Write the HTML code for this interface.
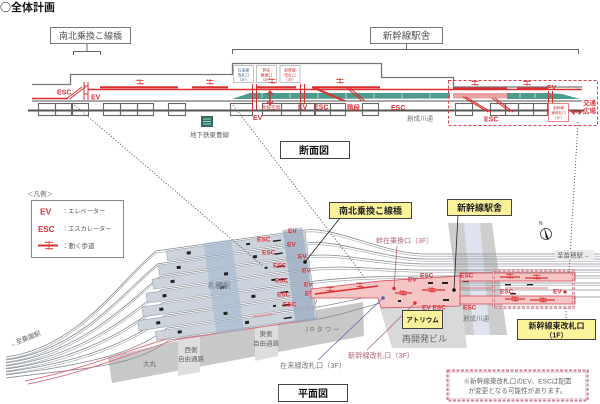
<!DOCTYPE html>
<html><head><meta charset="utf-8">
<style>
html,body{margin:0;padding:0;background:#fff;width:600px;height:404px;overflow:hidden}
svg{display:block}
text{font-family:"Liberation Sans","Noto Sans CJK JP",sans-serif}
.r{fill:#dc2f3a;font-weight:bold}
.g{fill:#666}
</style></head><body>
<svg width="600" height="404" viewBox="0 0 600 404" xmlns="http://www.w3.org/2000/svg">
<defs>
<g id="wk" stroke="#d9302f" stroke-width=".7" fill="none"><path d="M-3.5,-1.5h7M-3.5,-1.5l1.5,-1M3.5,1.5h-7M3.5,1.5l-1.5,1M0,-3v6"/></g>
</defs>

<!-- ===== TITLE ===== -->
<text x="0" y="11" font-size="11" font-weight="bold" fill="#111" style="font-family:'Noto Sans CJK JP','Liberation Sans',sans-serif">○全体計画</text>

<!-- ===== SECTION VIEW ===== -->
<rect x="50.5" y="27.5" width="80" height="16" fill="#fff" stroke="#777"/>
<text x="90.5" y="39" font-size="9" fill="#555" text-anchor="middle">南北乗換こ線橋</text>
<path d="M73.5,55V51.5H100.5V55M87,51.5V43.5" fill="none" stroke="#666"/>
<rect x="370.5" y="27.5" width="72" height="16" fill="#fff" stroke="#777"/>
<text x="406.5" y="39" font-size="9.5" fill="#555" text-anchor="middle">新幹線駅舎</text>
<path d="M232.5,54V49.5H578.5V54M406.5,49.5V43.5" fill="none" stroke="#666"/>

<polyline points="32,84.5 70.5,84.5 70.5,74.5 232.5,74.5 232.5,63.5 381.5,63.5 381.5,77.5 453.5,77.5 453.5,87 582,87" fill="none" stroke="#777" stroke-width="1.3"/>

<!-- small gate boxes -->
<g font-size="3.8" text-anchor="middle">
<rect x="233.5" y="65.5" width="20" height="17" fill="#fff" stroke="#999" stroke-width=".6"/>
<text x="243.5" y="71.5" fill="#4a6a8a">在来線</text><text x="243.5" y="76.5" fill="#4a6a8a">改札口</text><text x="243.5" y="81" fill="#4a6a8a">（3F）</text>
<rect x="256.5" y="65.5" width="20" height="17" fill="#fff" stroke="#999" stroke-width=".6"/>
<text x="266.5" y="71.5" fill="#d9302f">幹在</text><text x="266.5" y="76.5" fill="#d9302f">乗換口</text><text x="266.5" y="81" fill="#d9302f">（3F）</text>
<rect x="280" y="65.5" width="20" height="17" fill="#fff" stroke="#999" stroke-width=".6"/>
<text x="290" y="71.5" fill="#d9302f">新幹線</text><text x="290" y="76.5" fill="#d9302f">改札口</text><text x="290" y="81" fill="#d9302f">（3F）</text>
</g>

<!-- trains band -->
<polygon points="232,99 250,93 450,93 450,98.5" fill="#4e9a8c"/>
<rect x="453" y="93" width="54" height="5.5" fill="#e9a3a3"/>
<polygon points="507,93 547,93 562,94 580,99 507,99" fill="#4e9a8c"/>
<g stroke="#fff" stroke-width=".6">
<path d="M262,93v5M290,93v5M318,93v5M346,93v5M374,93v5M402,93v5M430,93v5M520,93v5M535,93v5"/>
</g>

<!-- floors -->
<line x1="32" y1="101" x2="582" y2="101" stroke="#777" stroke-width="1.2"/>
<line x1="28" y1="110.5" x2="584" y2="110.5" stroke="#555" stroke-width="2"/>
<g fill="none" stroke="#666" stroke-width="1.1">
<rect x="38.5" y="103.5" width="17" height="12"/><rect x="55.5" y="103.5" width="16" height="12"/><rect x="72.5" y="103.5" width="16" height="12"/>
<rect x="103.5" y="103.5" width="17" height="12"/><rect x="120.5" y="103.5" width="17" height="12"/><rect x="137.5" y="103.5" width="16" height="12"/>
<rect x="168.5" y="103.5" width="17" height="12"/>
<rect x="230.5" y="103.5" width="22" height="12"/>
<rect x="262.5" y="103.5" width="19" height="12"/><rect x="281.5" y="103.5" width="19" height="12"/>
<rect x="300.5" y="103.5" width="14" height="12"/><rect x="315.5" y="103.5" width="15" height="12"/><rect x="330.5" y="103.5" width="15" height="12"/>
<rect x="362.5" y="103.5" width="16" height="12"/>
<rect x="455.5" y="103.5" width="17" height="12"/>
<rect x="490.5" y="103.5" width="15" height="12"/><rect x="505.5" y="103.5" width="13" height="12"/><rect x="518.5" y="103.5" width="15" height="12"/><rect x="533.5" y="103.5" width="14" height="12"/>
</g>

<!-- red elements in section -->
<g stroke="#d9302f" fill="none">
<line x1="32" y1="98.5" x2="68" y2="98.5" stroke-width="1.6"/>
<line x1="88" y1="89.5" x2="582" y2="89.5" stroke-width="1.4"/>
<path d="M100,87.3H178M192,87.3H228M257,87.3H296M312,87.3H380M453,88.5H507M517,88.5H548" stroke-width="2.2"/>
<path d="M66,99L82,87M69.5,99L85.5,87" stroke-width="1"/>
<path d="M84,82V100M88,82V100M84,86H88M84,94H88" stroke-width="1"/>
<path d="M252.5,84V110M256.5,84V110" stroke-width="1"/>
<path d="M300.5,84V103M304.5,84V103" stroke-width="1"/>
<path d="M313,88L343,101M316,88L346,101" stroke-width="1.1"/>
<path d="M347,88L362,101M350,88L365,101" stroke-width="1.1"/>
<path d="M463,97L488,112M466,97L491,112" stroke-width="1.1"/>
<path d="M492,98L510,112M495,98L513,112" stroke-width="1.1"/>
<path d="M548.5,91V103M552.5,91V103" stroke-width="1"/>
<path d="M270,92V104" stroke-width="1.6"/>
<path d="M267,94.5L270,91L273,94.5M267,101.5L270,105L273,101.5" stroke-width="1.2"/>
<path d="M572,112H581M574.5,109.5L572,112L574.5,114.5M578.5,109.5L581,112L578.5,114.5" stroke-width="1.3"/>
</g>
<use href="#wk" x="140" y="82"/><use href="#wk" x="210" y="82"/><use href="#wk" x="272" y="81"/><use href="#wk" x="340" y="81"/><use href="#wk" x="475" y="83"/><use href="#wk" x="527" y="83"/>

<rect x="548.5" y="103.5" width="20" height="18" fill="#fff" stroke="#d9302f" stroke-width=".6"/>
<g font-size="3.6" fill="#d9302f" text-anchor="middle">
<text x="558.5" y="109">新幹線</text><text x="558.5" y="114">東改札口</text><text x="558.5" y="119">（1F）</text>
</g>

<g font-size="7">
<text x="57" y="94.5" class="r">ESC</text>
<text x="91" y="99.5" class="r">EV</text>
<text x="253" y="120" class="r">EV</text>
<text x="298" y="109.5" class="r">EV</text>
<text x="314" y="109.5" class="r">ESC</text>
<text x="347" y="109.5" class="r" font-size="6.5">階段</text>
<text x="391" y="110" class="r">ESC</text>
<text x="484" y="121.5" class="r">ESC</text>
<text x="547" y="90" class="r">EV</text>
</g>
<text x="262" y="109" font-size="4.5" fill="#d9302f">吹抜空間</text>
<text x="583" y="105" font-size="6.5" class="r">交通</text>
<text x="583" y="113" font-size="6.5" class="r">広場</text>

<!-- subway icon -->
<rect x="201" y="116" width="12" height="11" fill="#2e6c64"/>
<path d="M203,119h8M203,121.5h8M203,124h8" stroke="#cfe" stroke-width=".8"/>
<text x="190" y="137" font-size="6.5" class="g">地下鉄東豊線</text>
<text x="407" y="120.5" font-size="6.5" fill="#777">創成川通</text>

<!-- red dashed box -->
<rect x="448.5" y="80.5" width="149" height="45" fill="none" stroke="#d9404a" stroke-width="1" stroke-dasharray="3,2"/>

<!-- section label -->
<rect x="280.5" y="141.5" width="69" height="17" fill="#fff" stroke="#444"/>
<text x="314" y="154" font-size="10" font-weight="bold" text-anchor="middle" fill="#111">断面図</text>

<!-- ===== PLAN VIEW ===== -->
<!-- road (創成川通) -->
<polygon points="448,223 492,223 507,335 463,335" fill="#cdcdcd"/>
<polygon points="464,223 480,223 490,335 474,335" fill="#dfe3ef"/>

<!-- buildings -->
<polygon points="108,357 300,313 363,302 364,336 112,383" fill="#c8c8c8"/>
<polygon points="178,338 200,333 200,372 178,376" fill="#dedede"/>
<polygon points="255,320 278,315 278,356 255,361" fill="#dedede"/>
<polygon points="380,308 462,306 467,348 392,348" fill="#d9d9d9"/>

<!-- tracks -->
<g fill="none" stroke="#858b93" stroke-width=".8">
<path d="M6,357 C80,347 121,279 156.2,250.9 L304.7,230 C334.7,226 385,254 425,254 L600,254"/>
<path d="M6,360 C80,350 123,292 158,263.7 L306.5,242.9 C336.5,238.9 385,259 425,259 L600,259"/>
<path d="M6,363 C80,353 125,305 159.8,276.6 L308.3,255.8 C338.3,251.8 385,264 425,264 L600,264"/>
<path d="M6,366 C80,356 127,318 161.6,289.5 L310.1,268.6 C340.1,264.6 385,270 425,270 L600,270"/>
<path d="M6,369 C80,359 128,330 163.5,302.4 L312,281.5 C342,277.5 385,276 425,276 L600,276"/>
<path d="M6,372 C80,362 130,343 165.3,315.2 L313.8,294.4 C343.8,290.4 385,283 425,283 L600,283"/>
<path d="M6,375 C80,365 132,356 167.1,328.1 L315.6,307.2 C345.6,303.2 385,290 425,290 L600,290"/>
<path d="M6,378 C80,368 134,368 168.7,340 L317.2,319.1 C347.2,315.1 385,297 425,297 L600,297"/>
</g>
<g fill="none" stroke="#9aa0a7" stroke-width=".6" transform="translate(0,2.2)">
<path d="M6,357 C80,347 121,279 156.2,250.9 L304.7,230 C334.7,226 385,254 425,254 L600,254"/>
<path d="M6,360 C80,350 123,292 158,263.7 L306.5,242.9 C336.5,238.9 385,259 425,259 L600,259"/>
<path d="M6,363 C80,353 125,305 159.8,276.6 L308.3,255.8 C338.3,251.8 385,264 425,264 L600,264"/>
<path d="M6,366 C80,356 127,318 161.6,289.5 L310.1,268.6 C340.1,264.6 385,270 425,270 L600,270"/>
<path d="M6,369 C80,359 128,330 163.5,302.4 L312,281.5 C342,277.5 385,276 425,276 L600,276"/>
<path d="M6,372 C80,362 130,343 165.3,315.2 L313.8,294.4 C343.8,290.4 385,283 425,283 L600,283"/>
</g>
<!-- red lines under station -->
<g fill="none" stroke="#e07080" stroke-width=".9">
<path d="M25,381 C90,368 140,345 178,336 L300,318 C306,317 310,305 314,298"/>
<path d="M28,384 C93,371 143,348 180,339 L302,321 C309,320 313,308 317,300"/>
</g>
<rect x="180" y="329" width="13" height="4" fill="#eaa0aa" transform="rotate(-8 186 331)"/>
<rect x="253" y="314" width="20" height="4" fill="#eaa0aa" transform="rotate(-8 263 316)"/>

<!-- station platforms -->
<g transform="translate(305,232) rotate(-8)">
<g fill="#cdd3dc" stroke="#939aa4" stroke-width=".5">
<rect x="-140" y="-0.5" width="140" height="10"/>
<rect x="-150" y="12.5" width="150" height="10"/>
<rect x="-158" y="25.5" width="158" height="10"/>
<rect x="-166" y="38.5" width="166" height="10"/>
<rect x="-172" y="51.5" width="172" height="10"/>
<rect x="-178" y="64.5" width="178" height="10"/>
<rect x="-162" y="77.5" width="162" height="9"/>
</g>
<rect x="-102" y="-3" width="28" height="92" fill="#9fb6d2" opacity=".55"/>
<rect x="-22" y="-5" width="20" height="94" fill="#8fa3bd" opacity=".6"/>
<g fill="#222">
<rect x="-120" y="3" width="4" height="3"/><rect x="-60" y="3" width="4" height="2"/>
<rect x="-132" y="16" width="4" height="3"/><rect x="-55" y="16" width="4" height="3"/>
<rect x="-140" y="29" width="4" height="3"/><rect x="-86" y="29" width="4" height="3"/><rect x="-45" y="29" width="3" height="2"/>
<rect x="-150" y="42" width="4" height="3"/><rect x="-92" y="42" width="4" height="3"/><rect x="-40" y="42" width="4" height="2"/>
<rect x="-155" y="55" width="4" height="3"/><rect x="-62" y="55" width="4" height="3"/>
<rect x="-160" y="68" width="4" height="3"/><rect x="-92" y="68" width="4" height="3"/><rect x="-42" y="68" width="3" height="2"/>
<rect x="-140" y="80" width="4" height="3"/><rect x="-72" y="80" width="4" height="3"/>
<rect x="-33" y="4" width="8" height="1.5"/><rect x="-33" y="17" width="8" height="1.5"/><rect x="-33" y="30" width="8" height="1.5"/><rect x="-33" y="43" width="8" height="1.5"/><rect x="-33" y="56" width="8" height="1.5"/><rect x="-33" y="69" width="8" height="1.5"/><rect x="-33" y="82" width="8" height="1.5"/>
</g>
</g>
<text x="208" y="288" font-size="7.5" fill="#eef2f8" stroke="#6a7280" stroke-width=".35">札幌駅</text>
<g font-size="6.5">
<text x="288" y="233" class="r">EV</text><text x="257" y="241.5" class="r">ESC</text>
<text x="287" y="246.5" class="r">EV</text><text x="262" y="254.5" class="r">ESC</text>
<text x="298" y="258.5" class="r">EV</text><text x="273" y="267.5" class="r">ESC</text>
<text x="302" y="272.5" class="r">EV</text><text x="275" y="282.5" class="r">ESC</text>
<text x="304" y="286.5" class="r">EV</text><text x="277" y="296.5" class="r">ESC</text>
<text x="305" y="295.5" class="r">EV</text><text x="283" y="306.5" class="r">ESC</text>
</g>

<!-- pink concourse -->
<polygon points="311,289 380,281 460,276 460,306 381,308 378,298 311,298" fill="#f5c4c4" stroke="#d64a55" stroke-width=".8"/>
<path d="M315,294L378,286" stroke="#d9302f" stroke-width="1.6"/>
<use href="#wk" x="330" y="289"/><use href="#wk" x="360" y="285"/><use href="#wk" x="403" y="293"/><use href="#wk" x="432" y="290"/>
<path d="M395,293H412M422,290H445" stroke="#d9302f" stroke-width="1.2"/>
<g fill="#222"><rect x="428" y="282" width="5" height="2"/><rect x="442" y="282" width="6" height="2"/><rect x="443" y="299" width="6" height="2"/><rect x="462" y="297" width="5" height="2"/><rect x="463" y="280" width="6" height="2"/><rect x="398" y="300" width="3" height="2"/></g>

<!-- right corridors -->
<rect x="460" y="273" width="115" height="8" fill="#f5c4c4" stroke="#d64a55" stroke-width=".8"/>
<rect x="460" y="296" width="115" height="8" fill="#f5c4c4" stroke="#d64a55" stroke-width=".8"/>
<path d="M460,288H495M505,288H548" stroke="#d64a55" stroke-width=".8"/>
<path d="M500,277H520M525,278H548M505,299H525M530,300H555" stroke="#d9302f" stroke-width="1.2"/>
<use href="#wk" x="510" y="276"/><use href="#wk" x="537" y="277"/><use href="#wk" x="515" y="299"/><use href="#wk" x="543" y="300"/>
<g fill="#222"><rect x="505" y="284" width="6" height="1.5"/><rect x="527" y="284" width="6" height="1.5"/><rect x="510" y="293" width="6" height="1.5"/></g>
<rect x="493.5" y="270.5" width="80" height="37" fill="none" stroke="#c9707e" stroke-width="2.4" stroke-dasharray="3,1.6"/>
<rect x="493.5" y="270.5" width="80" height="37" fill="none" stroke="#fff" stroke-width=".6" stroke-dasharray="3,1.6"/>
<text x="500" y="293.5" font-size="6.5" class="r">ESC</text>
<text x="553" y="293.5" font-size="6.5" class="r">EV</text>
<circle cx="565" cy="292" r="1.6" fill="#d9302f"/>

<!-- plan red labels near concourse -->
<g font-size="6.5">
<text x="408" y="281.5" class="r">EV</text><text x="420" y="277.5" class="r">ESC</text><text x="460" y="277.5" class="r">ESC</text>
<text x="422" y="309.5" class="r">EV ESC</text><text x="463" y="309.5" class="r">ESC</text>
</g>

<!-- dotted connectors -->
<g fill="none" stroke="#666" stroke-width="1" stroke-dasharray="1.2,1.8">
<path d="M72,103L263,266"/>
<path d="M233,105L365,278"/>
<path d="M578,122L569,273"/>
<path d="M566,308V319"/>
</g>

<!-- pointer labels -->
<text x="376" y="243" font-size="7" fill="#b5687a">幹在乗換口（3F）</text>
<line x1="397" y1="246" x2="394" y2="288" stroke="#b5687a" stroke-width=".8"/>
<circle cx="394" cy="288.5" r="1.7" fill="#d9302f"/>
<text x="348" y="358" font-size="7.2" fill="#b5687a">新幹線改札口（3F）</text>
<line x1="367" y1="350" x2="415" y2="303" stroke="#b5687a" stroke-width=".8"/>
<circle cx="415" cy="303" r="1.7" fill="#d9302f"/>
<text x="280" y="368" font-size="7.2" fill="#777">在来線改札口（3F）</text>
<line x1="318" y1="360" x2="383" y2="298" stroke="#5a72a6" stroke-width=".8"/>
<circle cx="383" cy="298" r="1.8" fill="#4a66b0"/>

<!-- callouts -->
<line x1="340" y1="218" x2="305" y2="262" stroke="#222" stroke-width=".8"/>
<circle cx="305" cy="262" r="1.8" fill="#111"/>
<rect x="329.5" y="202.5" width="82" height="16" fill="#fbf39c" stroke="#444"/>
<text x="370.5" y="214" font-size="9" font-weight="bold" text-anchor="middle" fill="#222">南北乗換こ線橋</text>
<line x1="458" y1="215" x2="454" y2="290" stroke="#222" stroke-width=".8"/>
<circle cx="454" cy="290" r="1.8" fill="#111"/>
<rect x="447.5" y="199.5" width="64" height="16" fill="#fbf39c" stroke="#444"/>
<text x="479.5" y="211" font-size="9" font-weight="bold" text-anchor="middle" fill="#222">新幹線駅舎</text>
<rect x="402.5" y="310.5" width="40" height="18" fill="#fbf39c" stroke="#444"/>
<text x="422.5" y="322" font-size="6.5" font-weight="bold" text-anchor="middle" fill="#222">アトリウム</text>
<rect x="517.5" y="319.5" width="78" height="20" fill="#fbf39c" stroke="#444"/>
<text x="556.5" y="328.5" font-size="8" font-weight="bold" text-anchor="middle" fill="#222">新幹線東改札口</text>
<text x="556.5" y="337.5" font-size="7" font-weight="bold" text-anchor="middle" fill="#222">（1F）</text>

<!-- other plan labels -->
<text x="402" y="342" font-size="9" fill="#666">再開発ビル</text>
<text x="305" y="331.5" font-size="6.5" fill="#777" letter-spacing="1.8">JRタワー</text>
<g font-size="6.5" fill="#666" text-anchor="middle">
<text x="266" y="336">東側</text><text x="266" y="345.5">自由通路</text>
<text x="191" y="352">西側</text><text x="191" y="361">自由通路</text>
</g>
<text x="143" y="366" font-size="6.5" fill="#666">大丸</text>
<text x="463" y="320.5" font-size="6.5" fill="#777">創成川通</text>
<rect x="555" y="250" width="39" height="10" fill="#ebebeb"/>
<text x="557" y="257.5" font-size="6.5" fill="#666">至苗穂駅→</text>
<text x="11" y="347" font-size="6.5" fill="#666" transform="rotate(-22 11 347)">←至桑園駅</text>

<!-- north arrow -->
<text x="539" y="225" font-size="5" fill="#333">N</text>
<circle cx="546" cy="234" r="5.5" fill="#fff" stroke="#333" stroke-width=".8"/>
<polygon points="544,227 549,240 546,238" fill="#111"/>

<!-- legend -->
<text x="27" y="196" font-size="6.5" fill="#666">＜凡例＞</text>
<rect x="31.5" y="200.5" width="92" height="57" fill="#fff" stroke="#888"/>
<text x="40" y="214.5" font-size="8.5" class="r">EV</text>
<text x="62" y="213.5" font-size="6.2" fill="#555">：エレベーター</text>
<text x="38" y="232" font-size="8" class="r">ESC</text>
<text x="62" y="231" font-size="6.2" fill="#555">：エスカレーター</text>
<path d="M38,245.5H58" stroke="#d9302f" stroke-width="2"/>
<path d="M45,242.5h8M45,242.5l1.5,-1M53,248.5h-8M53,248.5l-1.5,1M49,241v9" stroke="#d9302f" stroke-width=".7" fill="none"/>
<text x="62" y="248" font-size="6.5" fill="#555">：動く歩道</text>

<!-- note -->
<rect x="447.5" y="370.5" width="140" height="30" fill="#fff" stroke="#cf8a99" stroke-width="2.2" stroke-dasharray="3,1.5"/>
<rect x="449.5" y="372.5" width="136" height="26" fill="none" stroke="#e6bcc6" stroke-width=".6"/>
<text x="517.5" y="383.5" font-size="6.6" fill="#666" text-anchor="middle">※新幹線東改札口のEV、ESCは配置</text>
<text x="517.5" y="393" font-size="6.6" fill="#666" text-anchor="middle">が変更となる可能性があります。</text>

<!-- plan label -->
<rect x="278.5" y="384.5" width="69" height="17" fill="#fff" stroke="#444"/>
<text x="313" y="397" font-size="10" font-weight="bold" text-anchor="middle" fill="#111">平面図</text>
</svg>
</body></html>
